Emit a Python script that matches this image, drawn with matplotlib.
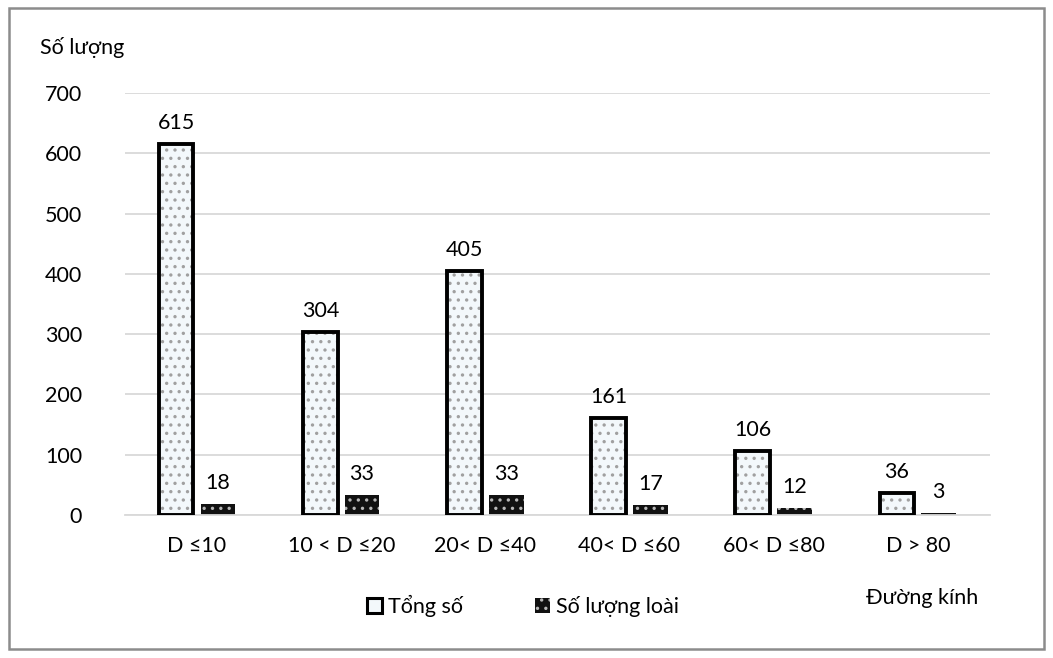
import matplotlib.pyplot as plt
import numpy as np
from matplotlib.patches import Rectangle, Patch

plt.rcParams["font.family"] = ["Lato", "DejaVu Sans"]
plt.rcParams["hatch.linewidth"] = 1.2

# ── Data ────────────────────────────────────────────────────────────────────
classes = ["D \u226410", "10 < D \u226420", "20< D \u226440", "40< D \u226460", "60< D \u226480", "D > 80"]
tong_so = [615, 304, 405, 161, 106, 36]
so_loai = [18, 33, 33, 17, 12, 3]

LIGHT_FILL = "#f3f8fb"
DOT_GREY = "#a0a0a0"
DARK_FILL = "#111111"
DARK_DOT = "#b8b8b8"
GRID = "#d9d9d9"
FS = 15.5

fig = plt.figure(figsize=(10.53, 6.58), dpi=100)
ax = fig.add_axes([0.1187, 0.2173, 0.8213, 0.6414])

x = np.arange(len(classes))
w = 0.24
off = 0.145

# total trees: dotted light fill, heavy black outline
ax.bar(x - off, tong_so, w, color=LIGHT_FILL, edgecolor=DOT_GREY, hatch="..", linewidth=0, zorder=2)
ax.bar(x - off, tong_so, w, fill=False, edgecolor="black", linewidth=2.8, zorder=3)

# species count: dark fill with light dots
ax.bar(x + off, so_loai, w, color=DARK_FILL, edgecolor=DARK_DOT, hatch="..", linewidth=0, zorder=2)

for xi, v in zip(x - off, tong_so):
    ax.annotate(str(v), (xi, v), xytext=(0, 8), textcoords="offset points",
                ha="center", va="bottom", fontsize=FS)
for xi, v in zip(x + off, so_loai):
    ax.annotate(str(v), (xi, v), xytext=(0, 8), textcoords="offset points",
                ha="center", va="bottom", fontsize=FS)

ax.set_xlim(-0.5, len(classes) - 0.5)
ax.set_ylim(0, 700)
ax.set_yticks(np.arange(0, 701, 100))
ax.set_xticks(x)
ax.set_xticklabels(classes)
ax.tick_params(axis="both", length=0, labelsize=FS)
ax.tick_params(axis="y", pad=31)
ax.tick_params(axis="x", pad=15)
ax.grid(axis="y", color=GRID, linewidth=1.3, zorder=0)
ax.set_axisbelow(True)
for s in ["top", "right", "left"]:
    ax.spines[s].set_visible(False)
ax.spines["bottom"].set_color(GRID)
ax.spines["bottom"].set_linewidth(1.3)

fig.text(40 / 1053, 1 - 48 / 658, "S\u1ed1 l\u01b0\u1ee3ng", fontsize=FS, ha="left", va="center")
fig.text(922 / 1053, 1 - 598 / 658, "\u0110\u01b0\u1eddng k\u00ednh", fontsize=FS, ha="center", va="center")

handles = [
    Patch(facecolor=LIGHT_FILL, edgecolor="black", linewidth=2.2),
    Patch(facecolor=DARK_FILL, edgecolor=DARK_DOT, hatch="..", linewidth=0),
]
fig.legend(handles, ["T\u1ed5ng s\u1ed1", "S\u1ed1 l\u01b0\u1ee3ng lo\u00e0i"], loc="center",
           bbox_to_anchor=(523 / 1053, 1 - 606 / 658), ncol=2, frameon=False, fontsize=FS,
           handlelength=0.7, handleheight=0.7, handletextpad=0.3, columnspacing=3.3)

fig.add_artist(Rectangle((9 / 1053, 1 - 649 / 658), 1035 / 1053, 641 / 658,
                         transform=fig.transFigure, fill=False, edgecolor="#8c8c8c", linewidth=1.8))

fig.savefig("out.png", dpi=100)
